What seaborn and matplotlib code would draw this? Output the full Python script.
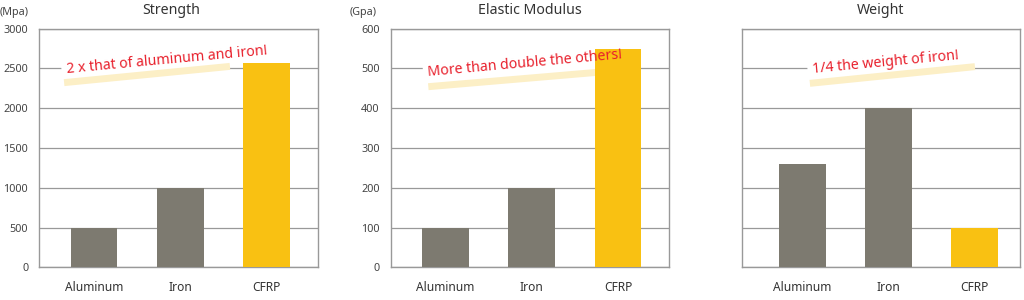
import matplotlib
matplotlib.use("Agg")
import matplotlib.pyplot as plt
import seaborn as sns
import pandas as pd

# ---- data ----
materials = ["Aluminum", "Iron", "CFRP"]
strength = [500, 1000, 2570]
elastic = [100, 200, 550]
weight = [260, 400, 100]

titles = ["Strength", "Elastic Modulus", "Weight"]
units = ["(Mpa)", "(Gpa)", None]
ymax = [3000, 600, 600]
ystep = [500, 100, 100]
notes = ["2 x that of aluminum and iron!", "More than double the others!", "1/4 the weight of iron!"]
bar_colors = ["#7d7a70", "#7d7a70", "#f9c112"]

sns.set_theme(style="white")
plt.rcParams["font.family"] = ["Noto Sans", "DejaVu Sans"]

fig = plt.figure(figsize=(10.24, 3.0), dpi=100)
ax_rects = [
    [39.3 / 1024, 32.7 / 300, 278.7 / 1024, 238.6 / 300],
    [390.7 / 1024, 32.7 / 300, 278.6 / 1024, 238.6 / 300],
    [741.7 / 1024, 32.7 / 300, 278.3 / 1024, 238.6 / 300],
]
xlims = [(-0.636, 2.595), (-0.636, 2.595), (-0.704, 2.527)]
title_x = [0.475, 0.5, 0.5]
# annotation geometry (axes fraction)
text_pos = [(0.098, 0.815, 5.3), (0.135, 0.800, 5.2), (0.255, 0.815, 5.4)]
band_pos = [((0.089, 0.774), (0.684, 0.842)),
            ((0.135, 0.757), (0.75, 0.818)),
            ((0.245, 0.771), (0.838, 0.841))]
unit_x = [0 / 1024, 350 / 1024, None]

series = [strength, elastic, weight]
for i in range(3):
    ax = fig.add_axes(ax_rects[i])
    df = pd.DataFrame({"material": materials, "value": series[i]})
    sns.barplot(data=df, x="material", y="value", hue="material",
                palette=bar_colors, legend=False, ax=ax, width=0.54,
                saturation=1, linewidth=0, edgecolor="none")
    for p in ax.patches:
        p.set_zorder(3)
    ax.set_xlim(*xlims[i])
    ax.set_ylim(0, ymax[i])
    ax.set_yticks(range(0, ymax[i] + 1, ystep[i]))
    ax.grid(axis="y", color="#999999", linewidth=0.9)
    ax.set_axisbelow(True)
    ax.set_xlabel("")
    ax.set_ylabel("")
    for s in ax.spines.values():
        s.set_visible(True)
        s.set_color("#999999")
        s.set_linewidth(1.0)
    ax.tick_params(axis="both", length=0)
    ax.tick_params(axis="y", labelsize=7.8, labelcolor="#444444", pad=8)
    ax.tick_params(axis="x", labelsize=8.6, labelcolor="#333333", pad=10)
    if i == 2:
        ax.set_yticklabels([])
    ax.text(title_x[i], 1.076, titles[i], transform=ax.transAxes,
            ha="center", va="center", fontsize=10.2, color="#333333")
    if units[i]:
        fig.text(unit_x[i], 1 - 12 / 300, units[i], ha="left", va="center",
                 fontsize=7.8, color="#444444")
    # annotation: white patch (below bars) + band + red text (above bars)
    tx, ty, rot = text_pos[i]
    bg = ax.text(tx, ty, notes[i], transform=ax.transAxes, ha="left",
                 va="baseline", rotation=rot, rotation_mode="anchor",
                 fontsize=10.2, color="white", zorder=1)
    bg.set_bbox(dict(facecolor="white", edgecolor="none", pad=3.5))
    ax.text(tx, ty, notes[i], transform=ax.transAxes, ha="left",
            va="baseline", rotation=rot, rotation_mode="anchor",
            fontsize=10.2, color="#e8202c", zorder=6)
    (x1, y1), (x2, y2) = band_pos[i]
    ax.plot([x1, x2], [y1, y2], transform=ax.transAxes, color="#fcefc6",
            linewidth=5.0, solid_capstyle="butt", zorder=2)

fig.savefig("out.png", dpi=100)
